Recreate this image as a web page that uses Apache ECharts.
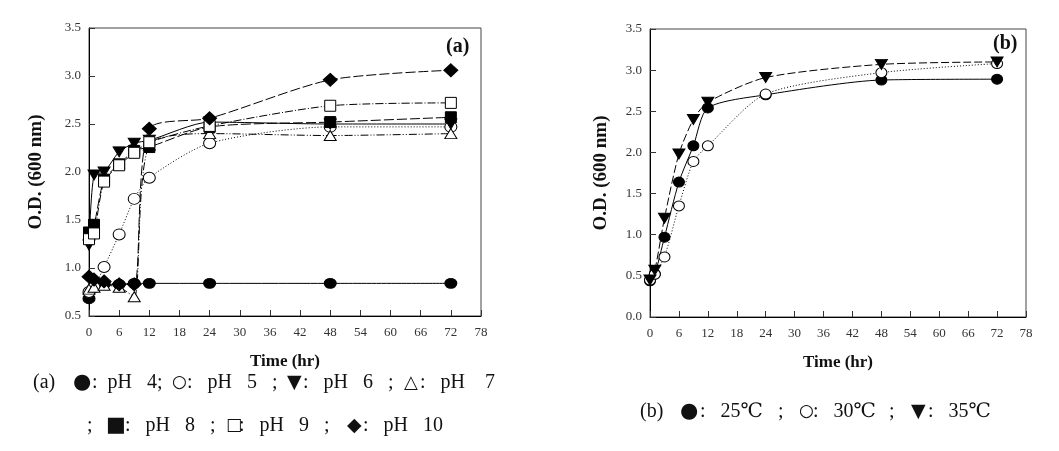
<!DOCTYPE html>
<html>
<head>
<meta charset="utf-8">
<script src="https://cdn.jsdelivr.net/npm/echarts@6/dist/echarts.min.js"></script>
<style>
html,body{margin:0;padding:0;background:#fff;}
#chart{width:1059px;height:451px;}
</style>
</head>
<body>
<div id="chart"></div>
<script>
// ---- data ----
const timesA = [0, 1, 3, 6, 9, 12, 24, 48, 72];
const pH4  = [0.68, 0.80, 0.83, 0.83, 0.84, 0.84, 0.84, 0.84, 0.84];
const pH5  = [0.75, 0.80, 1.01, 1.35, 1.72, 1.94, 2.30, 2.47, 2.47];
const pH6  = [1.24, 1.97, 2.00, 2.21, 2.30, 2.33, 2.52, 2.50, 2.50];
const pH7  = [0.78, 0.80, 0.82, 0.80, 0.70, 2.28, 2.40, 2.38, 2.40];
const pH8  = [1.37, 1.45, 1.92, 2.08, 2.22, 2.26, 2.47, 2.52, 2.57];
const pH9  = [1.30, 1.36, 1.90, 2.07, 2.20, 2.31, 2.48, 2.69, 2.72];
const pH10 = [0.91, 0.88, 0.86, 0.83, 0.83, 2.45, 2.56, 2.96, 3.06];

const timesB = [0, 1, 3, 6, 9, 12, 24, 48, 72];
const t25 = [0.44, 0.52, 0.97, 1.64, 2.08, 2.54, 2.70, 2.88, 2.89];
const t30 = [0.45, 0.52, 0.73, 1.35, 1.89, 2.08, 2.71, 2.97, 3.08];
const t35 = [0.45, 0.57, 1.20, 1.98, 2.40, 2.61, 2.91, 3.07, 3.10];

// caption pieces (text, symbol flag)
const captionA1 = [['(a)', 0], ['\u25CF', 1], [':  pH   4;', 0], ['\u25CB', 1], [':   pH   5   ;', 0],
                   ['\u25BC', 1], [':   pH   6   ;', 0], ['\u25B3', 1], [':   pH    7', 0]];
const captionA2 = [[';', 0], ['\u25A0', 1], [':   pH   8   ;', 0], ['\u25A1', 1], [':   pH   9   ;', 0],
                   ['\u25C6', 1], [':   pH   10', 0]];
const captionB  = [['(b)', 0], ['\u25CF', 1], [':   25\u2103', 0], [';', 0], ['\u25CB', 1], [':   30\u2103', 0],
                   [';', 0], ['\u25BC', 1], [':   35\u2103', 0]];

// ---- layout for captions ----
const capA1X = [33, 73, 92, 172, 187, 287, 303, 404, 420];
const capA2X = [87, 106, 125, 226, 239, 347, 363];
const capBX  = [640, 680, 700, 778, 799, 813, 889, 911, 928];
const symSize = {'\u25CF': 21, '\u25CB': 17, '\u25BC': 19, '\u25B3': 18, '\u25A0': 21, '\u25A1': 17, '\u25C6': 19};

const serif = 'Liberation Serif, DejaVu Serif, serif';
const pairs = (xs, ys) => xs.map((x, i) => [x, ys[i]]);

function xAxis(gridIndex) {
  return {
    type: 'value', gridIndex, min: 0, max: 78, interval: 6,
    name: 'Time (hr)', nameLocation: 'middle', nameGap: 37,
    nameTextStyle: {fontFamily: serif, fontWeight: 'bold', fontSize: 17, color: '#111'},
    axisLine: {show: true, lineStyle: {color: '#000', width: 1}},
    axisTick: {show: true, inside: true, length: 6, lineStyle: {color: '#333'}},
    axisLabel: {fontFamily: serif, fontSize: 13, color: '#333', margin: 10},
    splitLine: {show: false}
  };
}
function yAxis(gridIndex, min, gap) {
  return {
    type: 'value', gridIndex, min: min, max: 3.5, interval: 0.5,
    name: 'O.D. (600 nm)', nameLocation: 'middle', nameGap: gap, nameRotate: 90,
    nameTextStyle: {fontFamily: serif, fontWeight: 'bold', fontSize: 19, color: '#111'},
    axisLine: {show: true, lineStyle: {color: '#000', width: 1}},
    axisTick: {show: true, inside: true, length: 6, lineStyle: {color: '#333'}},
    axisLabel: {fontFamily: serif, fontSize: 13, color: '#333', margin: 8,
      formatter: v => v.toFixed(1)},
    splitLine: {show: false}
  };
}
function line(name, xs, ys, idx, symbol, size, type, extra) {
  return Object.assign({
    name, type: 'line', xAxisIndex: idx, yAxisIndex: idx,
    data: pairs(xs, ys), symbol, symbolSize: size, smooth: 0.25,
    lineStyle: {color: '#000', width: 1, type: type},
    itemStyle: {color: '#000', borderColor: '#000', borderWidth: 1},
    emphasis: {disabled: true}, animation: false
  }, extra || {});
}
const empty = {itemStyle: {color: '#fff', borderColor: '#000', borderWidth: 1}};

function caption(pieces, xs, y) {
  return pieces.map((p, i) => ({
    type: 'text', x: xs[i], y: y,
    style: {
      text: p[0], fill: '#111', textVerticalAlign: 'middle', verticalAlign: 'middle',
      font: (p[1] ? symSize[p[0]] + 'px DejaVu Sans, sans-serif' : '20px ' + serif)
    }
  }));
}

const chart = echarts.init(document.getElementById('chart'));
chart.setOption({
  backgroundColor: '#fff',
  animation: false,
  grid: [
    {left: 89, top: 28, width: 392, height: 288, show: true, borderColor: '#444', borderWidth: 1},
    {left: 650, top: 29, width: 376, height: 288, show: true, borderColor: '#444', borderWidth: 1}
  ],
  xAxis: [xAxis(0), xAxis(1)],
  yAxis: [yAxis(0, 0.5, 43), yAxis(1, 0, 39)],
  series: [
    line('pH 4', timesA, pH4, 0, 'circle', [12, 10], 'solid'),
    line('pH 5', timesA, pH5, 0, 'circle', [12, 11], [1, 2], empty),
    line('pH 6', timesA, pH6, 0, 'triangle', [12, 10], 'solid', {symbolRotate: 180}),
    line('pH 7', timesA, pH7, 0, 'triangle', [12, 10], [8, 2, 1, 2, 1, 2], empty),
    line('pH 8', timesA, pH8, 0, 'rect', [11, 11], [10, 3]),
    line('pH 9', timesA, pH9, 0, 'rect', [11, 11], [8, 2, 1, 2], empty),
    line('pH 10', timesA, pH10, 0, 'diamond', [14, 13], [10, 3]),
    line('25', timesB, t25, 1, 'circle', [11, 10], 'solid'),
    line('30', timesB, t30, 1, 'circle', [11, 10], [1, 2], empty),
    line('35', timesB, t35, 1, 'triangle', [12, 10], [8, 3], {symbolRotate: 180})
  ],
  graphic: [
    {type: 'text', x: 446, y: 47, style: {text: '(a)', font: 'bold 20px ' + serif, fill: '#111', textVerticalAlign: 'middle', verticalAlign: 'middle'}},
    {type: 'text', x: 993, y: 44, style: {text: '(b)', font: 'bold 20px ' + serif, fill: '#111', textVerticalAlign: 'middle', verticalAlign: 'middle'}}
  ].concat(caption(captionA1, capA1X, 383), caption(captionA2, capA2X, 426), caption(captionB, capBX, 412))
});
</script>
</body>
</html>
